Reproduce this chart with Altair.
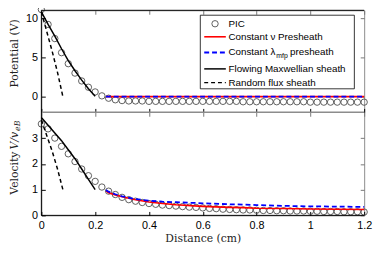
import altair as alt
import pandas as pd

# ---------------- data ----------------
x_pic = [0.0, 0.025, 0.05, 0.075, 0.1, 0.125, 0.15, 0.175, 0.2, 0.225,
         0.25, 0.275, 0.3, 0.325, 0.35, 0.375, 0.4, 0.425, 0.45, 0.475,
         0.5, 0.525, 0.55, 0.575, 0.6, 0.625, 0.65, 0.675, 0.7, 0.725,
         0.75, 0.775, 0.8, 0.825, 0.85, 0.875, 0.9, 0.925, 0.95, 0.975,
         1.0, 1.025, 1.05, 1.075, 1.1, 1.125, 1.15, 1.175, 1.2]
phi_pic = [11.1, 9.2, 7.4, 5.6, 4.2, 3.0, 2.0, 1.2, 0.6, 0.1,
           -0.2, -0.4, -0.5, -0.55, -0.55, -0.55, -0.6, -0.6, -0.6, -0.6,
           -0.6, -0.6, -0.6, -0.6, -0.6, -0.6, -0.6, -0.6, -0.6, -0.6,
           -0.65, -0.65, -0.65, -0.65, -0.65, -0.65, -0.65, -0.65, -0.65, -0.65,
           -0.7, -0.7, -0.7, -0.7, -0.7, -0.7, -0.7, -0.7, -0.7]
vel_pic = [3.55, 3.36, 3.0, 2.68, 2.39, 2.09, 1.8, 1.54, 1.32, 1.1,
           0.94, 0.81, 0.70, 0.61, 0.55, 0.50, 0.46, 0.43, 0.40, 0.38,
           0.36, 0.34, 0.32, 0.31, 0.29, 0.27, 0.26, 0.24, 0.23, 0.22,
           0.21, 0.21, 0.20, 0.19, 0.19, 0.18, 0.18, 0.17, 0.17, 0.17,
           0.16, 0.16, 0.15, 0.15, 0.15, 0.14, 0.14, 0.14, 0.13]

# Flowing Maxwellian sheath
x_fm = [0.0, 0.025, 0.05, 0.075, 0.1, 0.125, 0.15, 0.175, 0.2]
phi_fm = [10.8, 9.2, 7.7, 6.1, 4.6, 3.3, 2.1, 1.0, 0.05]
vel_fm = [3.8, 3.5, 3.2, 2.9, 2.55, 2.2, 1.8, 1.4, 1.0]

# Random flux sheath
x_rf = [0.0, 0.02, 0.04, 0.06, 0.08]
phi_rf = [10.8, 8.3, 5.8, 3.1, 0.0]
vel_rf = [3.7, 3.1, 2.5, 1.8, 1.0]

# Presheath models
x_pre = [0.24, 0.25, 0.275, 0.3, 0.35, 0.4, 0.45, 0.5, 0.6, 0.7, 0.75, 0.8, 0.9, 1.0, 1.1, 1.2]
phi_nu = [0.0, 0.0, 0.0, 0.0, 0.0, 0.0, 0.0, 0.0, 0.0, 0.0, 0.0, 0.0, 0.0, 0.0, 0.0, 0.0]
phi_lam = [0.0, 0.0, 0.0, 0.0, 0.0, 0.0, 0.0, 0.0, 0.0, 0.0, 0.0, 0.0, 0.0, 0.0, 0.0, 0.0]
vel_nu = [0.95, 0.88, 0.79, 0.72, 0.61, 0.52, 0.46, 0.41, 0.35, 0.31, 0.30, 0.28, 0.27, 0.25, 0.24, 0.23]
vel_lam = [0.98, 0.92, 0.82, 0.74, 0.63, 0.57, 0.53, 0.51, 0.47, 0.43, 0.42, 0.40, 0.37, 0.35, 0.34, 0.33]

x_ticks = [0, 0.2, 0.4, 0.6, 0.8, 1.0, 1.2]
phi_ticks = [0, 5, 10]
vel_ticks = [0, 1, 2, 3]

legend_labels = ["PIC", "Constant \u03bd Presheath", "Constant \u03bb", "Flowing Maxwellian sheath", "Random flux sheath"]
legend_sub = "mfp"
legend_after = "presheath"

# ---------------- frames ----------------
df_pic = pd.DataFrame({"x": x_pic, "phi": phi_pic, "vel": vel_pic})
df_fm = pd.DataFrame({"x": x_fm, "phi": phi_fm, "vel": vel_fm})
df_rf = pd.DataFrame({"x": x_rf, "phi": phi_rf, "vel": vel_rf})
df_nu = pd.DataFrame({"x": x_pre, "phi": phi_nu, "vel": vel_nu})
df_lam = pd.DataFrame({"x": x_pre, "phi": phi_lam, "vel": vel_lam})
one = pd.DataFrame({"k": [0]})

# ---------------- layout ----------------
W, H1, H2 = 329, 104, 105
H = H1 + H2
SANS = "Liberation Sans"
SERIF = "DejaVu Serif"
GREY = "#8c8c8c"
TXT = "#222222"
PT = 42
TK = 4

xs = alt.Scale(domain=[0, 1.2], nice=False, zero=False)
ys_top = alt.Scale(domain=[-2, 11], nice=False, zero=False, range=[H1, 0])
ys_bot = alt.Scale(domain=[0, 4], nice=False, zero=False, range=[H, H1])


def tick_axis(orient, values, offset=-TK, labels=False, color="black", title=None):
    kw = dict(orient=orient, values=values, tickSize=TK, offset=offset, domain=False,
              grid=False, labels=labels, tickColor=color, tickWidth=1)
    if labels:
        kw.update(labelFont=SANS, labelFontSize=11, labelColor="black",
                  labelPadding=4, labelFlush=False, format="~r")
    if title is not None:
        kw.update(title=title, titleFont=SERIF, titleFontSize=11,
                  titleFontWeight="normal", titleColor=TXT, titlePadding=3)
    return alt.Axis(**kw)


def series(field, yscale, is_top):
    if is_top:
        xa_pic = tick_axis("bottom", x_ticks, offset=-(H2 + TK))
        xa_red = tick_axis("top", x_ticks, color="#777777")
    else:
        xa_pic = tick_axis("bottom", x_ticks, labels=True, title="Distance (cm)")
        xa_red = tick_axis("top", x_ticks, offset=-(H1 + TK), color="#777777")
    yt = phi_ticks if is_top else vel_ticks
    pic = alt.Chart(df_pic).mark_point(shape="circle", filled=False, size=PT,
                                       color="#4d4d4d", strokeWidth=0.9, opacity=1).encode(
        x=alt.X("x:Q", scale=xs, title="Distance (cm)" if not is_top else None, axis=xa_pic),
        y=alt.Y(f"{field}:Q", scale=yscale, title=None, axis=tick_axis("left", yt, labels=True)),
    )
    red = alt.Chart(df_nu).mark_line(color="#ff0000", strokeWidth=1.6).encode(
        x=alt.X("x:Q", scale=xs, title=None, axis=xa_red),
        y=alt.Y(f"{field}:Q", scale=yscale, title=None,
                axis=tick_axis("right", yt, color="#777777")),
    )
    blue = alt.Chart(df_lam).mark_line(color="#0000ff", strokeWidth=1.8, strokeDash=[5, 3]).encode(
        x=alt.X("x:Q", scale=xs, axis=None),
        y=alt.Y(f"{field}:Q", scale=yscale, axis=None),
    )
    fm = alt.Chart(df_fm).mark_line(color="black", strokeWidth=1.5).encode(
        x=alt.X("x:Q", scale=xs, axis=None),
        y=alt.Y(f"{field}:Q", scale=yscale, axis=None),
    )
    rf = alt.Chart(df_rf).mark_line(color="black", strokeWidth=1.5, strokeDash=[4, 3]).encode(
        x=alt.X("x:Q", scale=xs, axis=None),
        y=alt.Y(f"{field}:Q", scale=yscale, axis=None),
    )
    return [pic, red, blue, fm, rf]


def hrule(y, color, sw=1):
    return alt.Chart(one).mark_rule(color=color, strokeWidth=sw).encode(
        y=alt.value(y), x=alt.value(0), x2=alt.value(W))


def text(t, x, y, **kw):
    return alt.Chart(one).mark_text(text=t, **kw).encode(x=alt.value(x), y=alt.value(y))


layers = []
layers += series("phi", ys_top, True)
layers += series("vel", ys_bot, False)

# frame: grey box (view stroke) with black left / top / bottom edges, grey divider
layers.append(hrule(H1, GREY, 1.5))
layers.append(hrule(0, "black"))
layers.append(hrule(H, "black"))
layers.append(alt.Chart(one).mark_rule(color="black", strokeWidth=1).encode(
    x=alt.value(0), y=alt.value(0), y2=alt.value(H)))

# y titles
layers.append(text("Potential (V)", -27, 44, angle=270, font=SERIF, fontSize=11,
                   align="center", baseline="middle", color=TXT))
layers.append(text("V/v", -27, H1 + 20, angle=270, font=SERIF, fontStyle="italic", fontSize=11,
                   align="right", baseline="middle", color=TXT))
layers.append(text("Velocity", -27, H1 + 40, angle=270, font=SERIF, fontSize=11,
                   align="right", baseline="middle", color=TXT))
layers.append(text("eB", -23.5, H1 + 19, angle=270, font=SERIF, fontStyle="italic", fontSize=8,
                   align="left", baseline="middle", color=TXT))

# legend
LX0, LX1 = 162, 319
row_y = [13.7, 27, 43, 59.7, 73.7]
layers.append(alt.Chart(one).mark_rect(fill="white", stroke="black", strokeWidth=0.8).encode(
    x=alt.value(LX0), x2=alt.value(LX1), y=alt.value(5), y2=alt.value(80)))
layers.append(alt.Chart(one).mark_point(shape="circle", filled=False, size=PT,
                                        color="#4d4d4d", strokeWidth=0.9, opacity=1).encode(
    x=alt.value(177), y=alt.value(row_y[0])))
styles = [("#ff0000", 1.6, None), ("#0000ff", 1.8, [5, 3]), ("black", 1.5, None), ("black", 1.5, [4, 3])]
for (col, sw, dash), yy in zip(styles, row_y[1:]):
    kw = dict(color=col, strokeWidth=sw)
    if dash:
        kw["strokeDash"] = dash
    layers.append(alt.Chart(one).mark_rule(**kw).encode(
        x=alt.value(166), x2=alt.value(188), y=alt.value(yy)))
for lab, yy in zip(legend_labels, row_y):
    layers.append(text(lab, 190.7, yy, font=SANS, fontSize=10, align="left",
                       baseline="middle", color="black"))
layers.append(text(legend_sub, 239.5, row_y[2] + 4, font=SANS, fontSize=7, align="left",
                   baseline="middle", color="black"))
layers.append(text(legend_after, 253.5, row_y[2], font=SANS, fontSize=10, align="left",
                   baseline="middle", color="black"))

chart = alt.layer(*layers).resolve_scale(y="independent").resolve_axis(
    x="independent", y="independent"
).properties(
    width=W, height=H,
    autosize=alt.AutoSizeParams(type="none"),
    padding={"left": 34, "top": 0, "right": 9, "bottom": 36},
).configure_view(stroke=GREY, strokeWidth=1).configure_axis(titleFontWeight="normal")

chart.save("out.html", embed_options={"renderer": "svg", "actions": False})
